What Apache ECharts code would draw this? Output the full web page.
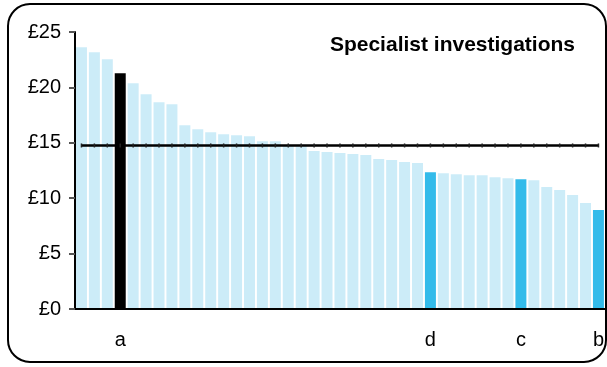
<!DOCTYPE html>
<html><head><meta charset="utf-8">
<script src="https://cdn.jsdelivr.net/npm/echarts@6/dist/echarts.min.js"></script>
<style>html,body{margin:0;padding:0;background:#fff}#c{width:607px;height:367px}</style>
</head><body><div id="c"></div>
<script>
var categories = ['', '', '', 'a', '', '', '', '', '', '', '', '', '', '', '', '', '', '', '', '', '', '', '', '', '', '', '', 'd', '', '', '', '', '', '', 'c', '', '', '', '', '', 'b'];
var values = [23.62, 23.17, 22.54, 21.28, 20.38, 19.39, 18.66, 18.48, 16.59, 16.23, 15.96, 15.78, 15.69, 15.60, 15.15, 15.15, 14.75, 14.68, 14.25, 14.16, 14.07, 13.98, 13.89, 13.53, 13.44, 13.26, 13.17, 12.35, 12.26, 12.17, 12.08, 12.08, 11.90, 11.81, 11.72, 11.63, 11.00, 10.73, 10.28, 9.56, 8.93];
var highlightBlack = ['a'];
var highlightBlue = ['d', 'c', 'b'];
var averageValue = 14.76;
var yTicks = [0, 5, 10, 15, 20, 25];
var title = 'Specialist investigations';

var chart = echarts.init(document.getElementById('c'), null, {renderer: 'canvas'});
var barData = values.map(function (v, i) {
  var c = '#CCECF8';
  if (highlightBlack.indexOf(categories[i]) >= 0) c = '#000000';
  if (highlightBlue.indexOf(categories[i]) >= 0) c = '#33BBEA';
  return {value: v, itemStyle: {color: c}};
});
var lineData = values.map(function () { return averageValue; });
chart.setOption({
  animation: false,
  backgroundColor: '#fff',
  title: {text: title, right: 27, top: 30, textStyle: {fontFamily: 'Liberation Sans', fontSize: 21, fontWeight: 'bold', color: '#000'}},
  grid: {left: 75, right: 1, top: 32, bottom: 58},
  xAxis: {
    type: 'category', data: categories, boundaryGap: true, z: 4,
    axisLine: {lineStyle: {color: '#000', width: 2}},
    axisTick: {show: false},
    axisLabel: {interval: 0, margin: 21, fontFamily: 'Liberation Sans', fontSize: 20, color: '#000'}
  },
  yAxis: {
    type: 'value', min: yTicks[0], max: yTicks[yTicks.length - 1], interval: 5, z: 4,
    axisLine: {show: true, lineStyle: {color: '#000', width: 2}},
    axisTick: {show: true, length: 6, lineStyle: {color: '#555', width: 2}},
    splitLine: {show: false},
    axisLabel: {margin: 14, fontFamily: 'Liberation Sans', fontSize: 20, color: '#000', formatter: function (v) { return '£' + v; }}
  },
  series: [
    {type: 'bar', data: barData, barCategoryGap: '15%'},
    {type: 'line', data: lineData, symbol: 'rect', symbolSize: [1.5, 4], itemStyle: {color: '#222'}, lineStyle: {color: '#000', width: 2.5}, z: 5}
  ],
  graphic: [{type: 'rect', shape: {x: 8, y: 4, width: 598, height: 358, r: 22}, style: {fill: 'none', stroke: '#000', lineWidth: 2}, z: 100}]
});
</script></body></html>
